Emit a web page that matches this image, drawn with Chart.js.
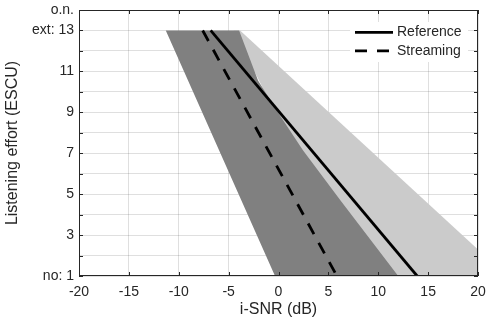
<!DOCTYPE html>
<html lang="en">
<head>
    <meta charset="UTF-8">
    <script src="https://cdn.jsdelivr.net/npm/chart.js"></script>
    <title>Listening effort</title>
    <style>
        * { margin: 0; padding: 0; box-sizing: border-box; }
        body { background: #fff; }
        #wrap { width: 490px; height: 323px; }
    </style>
</head>
<body>
<div id="wrap"><canvas id="effort"></canvas></div>
<script>
    // fitted lines: i-SNR (dB) where effort is 13 and 1
    const effortEnds = [13, 1];
    const refLineSnr = [-6.8, 13.9];
    const strLineSnr = [-7.6, 5.85];

    // confidence bands, outline points (i-SNR, effort)
    const refBandSnr = [-4.5, -3.85, 22.9, 8];
    const refBandEffort = [13, 13, 1, 1];
    const strBandSnr = [-11.3, -3.95, -2.05, 0.15, 2.45, 6.2, 12.0, -0.35];
    const strBandEffort = [13, 13, 10.55, 8.85, 7.15, 4.7, 1, 1];

    const yTickValues = [1, 3, 5, 7, 9, 11, 13, 14];
    const yTickLabels = ['no: 1', '3', '5', '7', '9', '11', 'ext: 13', 'o.n.'];

    const ink = '#262626';
    const gridCol = 'rgba(38,38,38,0.15)';
    const fontFam = '"Liberation Sans", Arial, sans-serif';

    const toPts = (xs, ys) => xs.map((x, i) => ({ x: x, y: ys[i] }));

    // box around the axes with inward ticks, plus legend in the corner
    const framePlugin = {
        id: 'frame',
        afterDraw(chart) {
            const ctx = chart.ctx;
            const ca = chart.chartArea;
            const xs = chart.scales.x, ys = chart.scales.y;

            // legend
            const items = chart.data.datasets.filter(d => d.inLegend);
            ctx.save();
            ctx.fillStyle = '#fff';
            ctx.fillRect(ca.right - 128, ca.top + 12, 118, 40);
            ctx.font = '14px ' + fontFam;
            ctx.textBaseline = 'middle';
            items.forEach((d, i) => {
                const y = ca.top + 22.3 + i * 18.5;
                ctx.strokeStyle = d.borderColor;
                ctx.lineWidth = d.borderWidth;
                ctx.setLineDash(d.borderDash || []);
                ctx.beginPath();
                ctx.moveTo(ca.right - 123, y);
                ctx.lineTo(ca.right - 85, y);
                ctx.stroke();
                ctx.setLineDash([]);
                ctx.fillStyle = ink;
                ctx.fillText(d.label, ca.right - 81, y);
            });

            // frame
            ctx.strokeStyle = ink;
            ctx.lineWidth = 1;
            ctx.strokeRect(ca.left + 0.5, ca.top + 0.5, ca.right - ca.left - 1, ca.bottom - ca.top - 1);
            ctx.beginPath();
            xs.ticks.forEach(t => {
                const px = Math.round(xs.getPixelForValue(t.value)) + 0.5;
                ctx.moveTo(px, ca.bottom); ctx.lineTo(px, ca.bottom - 4);
                ctx.moveTo(px, ca.top); ctx.lineTo(px, ca.top + 4);
            });
            ys.ticks.forEach(t => {
                const py = Math.round(ys.getPixelForValue(t.value)) + 0.5;
                ctx.moveTo(ca.left, py); ctx.lineTo(ca.left + 4, py);
                ctx.moveTo(ca.right, py); ctx.lineTo(ca.right - 4, py);
            });
            ctx.stroke();
            ctx.restore();
        }
    };

    new Chart(document.getElementById('effort'), {
        type: 'scatter',
        data: {
            datasets: [
                {
                    label: 'Reference',
                    inLegend: true,
                    data: toPts(refLineSnr, effortEnds),
                    showLine: true,
                    borderColor: '#000',
                    borderWidth: 2.8,
                    pointRadius: 0
                },
                {
                    label: 'Streaming',
                    inLegend: true,
                    data: toPts(strLineSnr, effortEnds),
                    showLine: true,
                    borderColor: '#000',
                    borderWidth: 2.8,
                    borderDash: [12, 10],
                    borderCapStyle: 'butt',
                    pointRadius: 0
                },
                {
                    label: 'Streaming CI',
                    data: toPts(strBandSnr, strBandEffort),
                    showLine: true,
                    fill: 'shape',
                    backgroundColor: '#808080',
                    borderWidth: 0,
                    borderColor: 'rgba(0,0,0,0)',
                    pointRadius: 0
                },
                {
                    label: 'Reference CI',
                    data: toPts(refBandSnr, refBandEffort),
                    showLine: true,
                    fill: 'shape',
                    backgroundColor: '#cbcbcb',
                    borderWidth: 0,
                    borderColor: 'rgba(0,0,0,0)',
                    pointRadius: 0
                }
            ]
        },
        options: {
            responsive: true,
            maintainAspectRatio: false,
            animation: false,
            layout: { padding: { top: 10, right: 12, left: 0, bottom: 0 } },
            plugins: {
                legend: { display: false },
                tooltip: { enabled: false }
            },
            scales: {
                x: {
                    type: 'linear',
                    min: -20,
                    max: 20,
                    z: 1,
                    border: { display: false },
                    grid: { color: gridCol, drawTicks: false },
                    ticks: {
                        stepSize: 5,
                        padding: 8,
                        color: ink,
                        font: { family: fontFam, size: 14 }
                    },
                    title: {
                        display: true,
                        text: 'i-SNR (dB)',
                        color: ink,
                        font: { family: fontFam, size: 16 },
                        padding: { top: 0, bottom: 4 }
                    },
                    afterFit: s => { s.height = 47; s.paddingLeft = 0; s.paddingRight = 0; }
                },
                y: {
                    type: 'linear',
                    min: 1,
                    max: 14,
                    z: 1,
                    border: { display: false },
                    grid: { color: gridCol, drawTicks: false },
                    ticks: {
                        stepSize: 1,
                        autoSkip: false,
                        padding: 5,
                        color: ink,
                        font: { family: fontFam, size: 14 },
                        callback: v => {
                            const i = yTickValues.indexOf(v);
                            return i >= 0 ? yTickLabels[i] : '';
                        }
                    },
                    title: {
                        display: true,
                        text: 'Listening effort (ESCU)',
                        color: ink,
                        font: { family: fontFam, size: 16 },
                        padding: { top: 3, bottom: 0 }
                    },
                    afterFit: s => { s.width = 79; s.paddingTop = 0; s.paddingBottom = 0; }
                }
            }
        },
        plugins: [framePlugin]
    });
</script>
</body>
</html>
